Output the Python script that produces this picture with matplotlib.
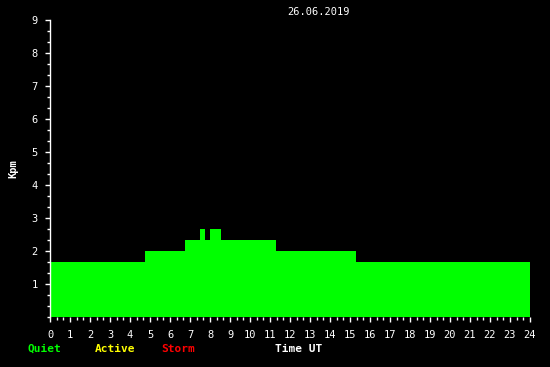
import matplotlib
matplotlib.use("Agg")
import matplotlib.pyplot as plt
from matplotlib.ticker import MultipleLocator

# Data (hours UT, Kpm values)
seg_start = [0, 4.75, 6.75, 7.5, 7.75, 8.0, 8.55, 11.3, 15.3]
seg_end = [4.75, 6.75, 7.5, 7.75, 8.0, 8.55, 11.3, 15.3, 24]
kpm = [1.67, 2.0, 2.33, 2.67, 2.33, 2.67, 2.33, 2.0, 1.67]
x_ticks = list(range(0, 25))
y_ticks = list(range(1, 10))
date_label = "26.06.2019"

font = "DejaVu Sans Mono"
fig = plt.figure(figsize=(5.5, 3.67), dpi=100, facecolor="black")
ax = fig.add_axes([50/550, 1-317.4/367, 480/550, (317.4-19.8)/367])
ax.set_facecolor("black")

widths = [e - s for s, e in zip(seg_start, seg_end)]
ax.bar(seg_start, kpm, width=widths, align="edge", color="#00ff00",
       edgecolor="none", linewidth=0)

ax.set_xlim(0, 24)
ax.set_ylim(0, 9)
ax.set_xticks(x_ticks)
ax.set_yticks(y_ticks)
ax.xaxis.set_minor_locator(MultipleLocator(1/3))
ax.yaxis.set_minor_locator(MultipleLocator(1/3))
for sp in ["top", "right", "bottom"]:
    ax.spines[sp].set_visible(False)
ax.spines["left"].set_color("white")
ax.spines["left"].set_linewidth(1)
ax.tick_params(which="major", colors="white", length=3.8, width=1, direction="out",
               labelsize=7.5, pad=5)
ax.tick_params(which="minor", colors="white", length=2.2, width=1, direction="out")
for lbl in ax.get_xticklabels() + ax.get_yticklabels():
    lbl.set_fontfamily(font)

ax.set_ylabel("Kpm", color="white", fontsize=7.5, fontweight="bold",
              fontfamily=font)
ax.yaxis.set_label_coords(-32/480, 0.5)

fig.text(319/550, 1-12/367, date_label, color="white", fontsize=7.5,
         fontfamily=font, ha="center", va="center")
fig.text(28/550, 1-349/367, "Quiet", color="#00ff00", fontsize=8,
         fontweight="bold", fontfamily=font, ha="left", va="center")
fig.text(95/550, 1-349/367, "Active", color="#ffff00", fontsize=8,
         fontweight="bold", fontfamily=font, ha="left", va="center")
fig.text(161/550, 1-349/367, "Storm", color="#ff0000", fontsize=8,
         fontweight="bold", fontfamily=font, ha="left", va="center")
fig.text(275/550, 1-349/367, "Time UT", color="white", fontsize=8,
         fontweight="bold", fontfamily=font, ha="left", va="center")

fig.savefig("out.png", dpi=100, facecolor="black")
